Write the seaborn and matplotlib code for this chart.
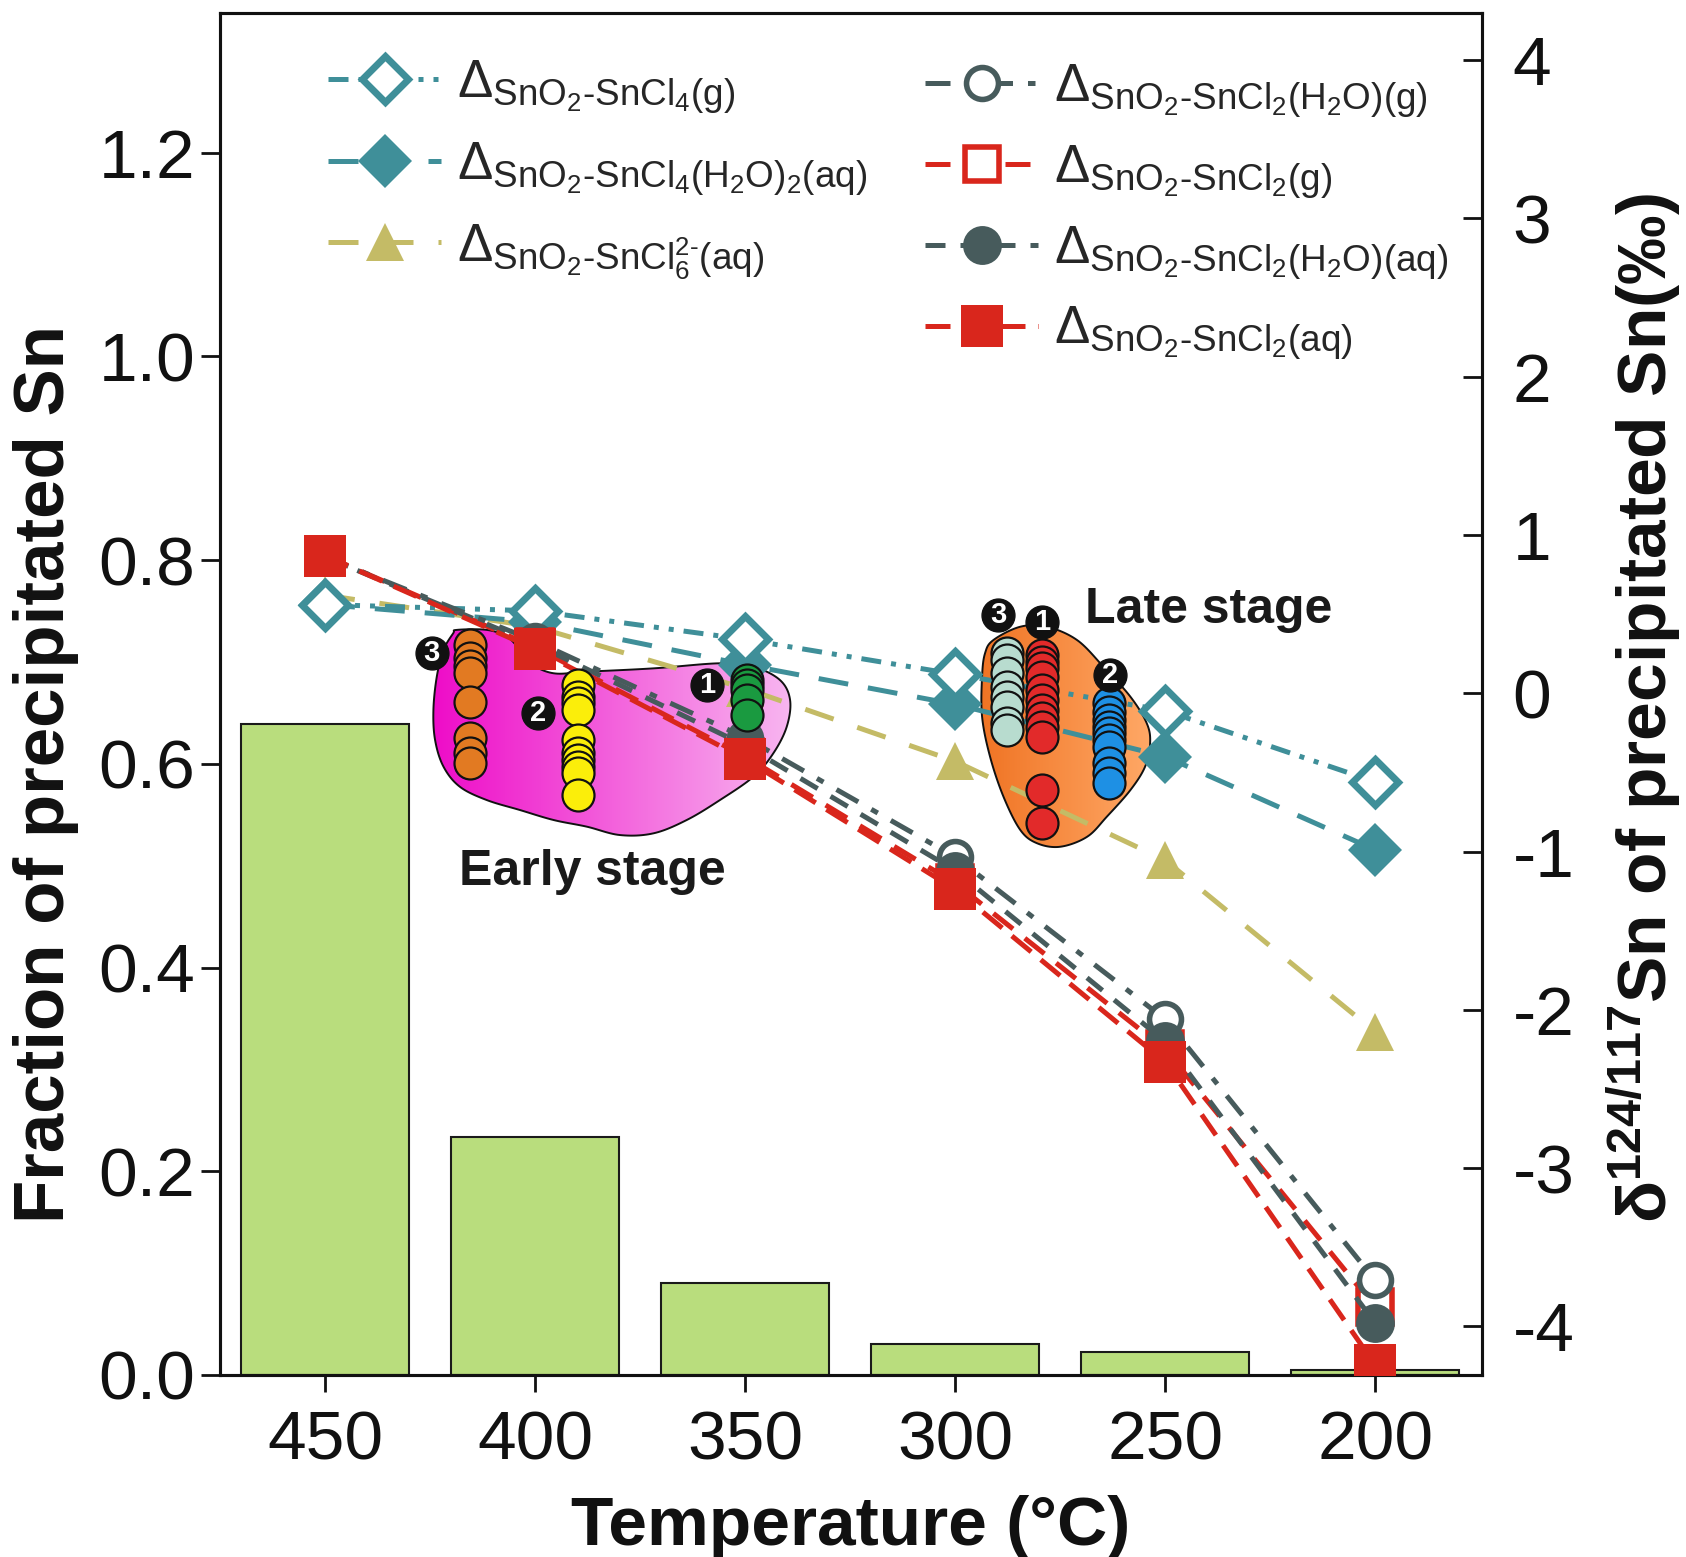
import numpy as np
import pandas as pd
import matplotlib
matplotlib.use("Agg")
import matplotlib.pyplot as plt
import seaborn as sns
from matplotlib.lines import Line2D
from matplotlib.patches import Polygon
from matplotlib.colors import LinearSegmentedColormap

# ---------------- data ----------------
temps = [450, 400, 350, 300, 250, 200]                      # °C
fraction = [0.639, 0.234, 0.090, 0.030, 0.023, 0.005]       # fraction of Sn precipitated per step

# modelled d124/117Sn of precipitated SnO2 for each aqueous / gaseous Sn species
d_sncl4_g = [0.56, 0.52, 0.34, 0.12, -0.11, -0.56]
d_sncl4h2o2_aq = [0.56, 0.45, 0.18, -0.07, -0.40, -0.99]
d_sncl6_aq = [0.62, 0.42, 0.03, -0.43, -1.055, -2.14]
d_sncl2h2o_g = [0.86, 0.33, -0.28, -1.035, -2.06, -3.71]
d_sncl2_g = [0.87, 0.29, -0.40, -1.20, -2.25, -3.88]
d_sncl2h2o_aq = [0.86, 0.31, -0.33, -1.12, -2.20, -3.98]
d_sncl2_aq = [0.868, 0.279, -0.416, -1.239, -2.33, -4.244]

# measured cassiterite d124/117Sn, grouped by stage and generation
early1_T, early1 = 349.6, [0.083, 0.05, 0.02, -0.043, -0.138]
early2_T, early2 = 389.7, [0.052, -0.022, -0.064, -0.106, -0.296, -0.380, -0.422, -0.464, -0.506, -0.643]
early3_T, early3 = 415.5, [0.305, 0.222, 0.172, 0.128, -0.056, -0.283, -0.378, -0.441]
late1_T, late1 = 279.4, [0.241, 0.199, 0.157, 0.104, 0.020, -0.043, -0.106, -0.159, -0.212, -0.275, -0.612, -0.822]
late2_T, late2 = 263.5, [-0.064, -0.117, -0.169, -0.212, -0.254, -0.296, -0.338, -0.443, -0.506, -0.569]
late3_T, late3 = 287.7, [0.252, 0.210, 0.126, 0.041, -0.022, -0.085, -0.190, -0.232]

# generation badges: (label, T, d)
badges = [("3", 424.6, 0.252), ("2", 399.2, -0.127), ("1", 359.1, 0.052),
          ("3", 289.7, 0.494), ("1", 279.4, 0.452), ("2", 263.1, 0.115)]

# outlines of the stage fields (T, d)
early_field = [(418.6, 0.40), (411.5, 0.40), (406.7, 0.357), (403.6, 0.273), (401.2, 0.189),
               (395.6, 0.126), (387.7, 0.136), (371.8, 0.157), (356.0, 0.189), (348.0, 0.167),
               (341.7, 0.083), (339.3, -0.043), (340.1, -0.212), (343.3, -0.380), (348.0, -0.527),
               (356.0, -0.675), (363.9, -0.801), (371.8, -0.885), (379.8, -0.896), (387.7, -0.843),
               (395.6, -0.801), (403.6, -0.738), (411.5, -0.675), (417.9, -0.591), (421.8, -0.464),
               (423.8, -0.296), (424.2, -0.106), (423.4, 0.104), (421.8, 0.273), (419.5, 0.378)]
late_field = [(290.9, 0.336), (284.5, 0.420), (278.2, 0.420), (271.0, 0.336), (264.7, 0.167),
              (258.3, -0.022), (254.4, -0.190), (253.6, -0.316), (254.8, -0.464), (258.3, -0.612),
              (263.9, -0.780), (268.6, -0.907), (275.0, -0.970), (280.5, -0.948), (284.5, -0.864),
              (288.5, -0.654), (291.7, -0.401), (293.6, -0.148), (293.6, 0.104), (292.9, 0.252)]

# ---------------- style ----------------
sns.set_theme(style="ticks")
plt.rcParams["font.family"] = ["Liberation Sans", "DejaVu Sans"]
plt.rcParams["mathtext.fontset"] = "custom"
plt.rcParams["mathtext.rm"] = "Liberation Sans"
plt.rcParams["mathtext.it"] = "Liberation Sans:italic"
plt.rcParams["mathtext.bf"] = "Liberation Sans:bold"

TEAL = "#3f8f99"
OLIVE = "#c4bb66"
SLATE = "#475b5c"
RED = "#d9261c"
BAR = "#b9dd7d"
INK = "#111111"

fig = plt.figure(figsize=(16.86, 15.57), dpi=100)
W, H = 1686, 1557
ax = fig.add_axes([220 / W, 1 - 1375 / H, (1482 - 220) / W, (1375 - 13) / H])

# ---------------- bars: fraction precipitated ----------------
bar_df = pd.DataFrame({"T": temps, "frac": fraction})
sns.barplot(data=bar_df, x="T", y="frac", native_scale=True, width=0.8, color=BAR,
            saturation=1, edgecolor="#1a1a1a", linewidth=1.5, errorbar=None, ax=ax)
ax.set_xlim(475, 174.6)
ax.set_ylim(0, 1.337)
ax.set_xticks(temps)
ax.set_xticklabels([str(t) for t in temps])
ax.set_yticks([0.0, 0.2, 0.4, 0.6, 0.8, 1.0, 1.2])
ax.set_yticklabels(["0.0", "0.2", "0.4", "0.6", "0.8", "1.0", "1.2"])
ax.tick_params(axis="y", direction="out", length=14, width=2, labelsize=50, pad=4,
               left=True, right=False, colors=INK)
ax.tick_params(axis="x", direction="out", length=12, width=2, labelsize=50, pad=13,
               bottom=True, top=False, colors=INK)

# ---------------- isotope axis ----------------
ax2 = ax.twinx()
ax2.set_ylim(-4.307, 4.297)
ax2.set_yticks(range(-4, 5))
ax2.set_yticklabels([str(v) for v in range(-4, 5)])
ax2.tick_params(axis="y", direction="in", length=14, width=2, labelsize=50, pad=22,
                right=True, colors=INK)

for a in (ax, ax2):
    for s in a.spines.values():
        s.set_linewidth(2.2)
        s.set_color(INK)
        s.set_visible(True)


def smooth_closed(pts, n=14):
    p = np.asarray(pts, float)
    m = len(p)
    t = np.linspace(0, 1, n, endpoint=False)[:, None]
    out = []
    for i in range(m):
        p0, p1, p2, p3 = p[i - 1], p[i], p[(i + 1) % m], p[(i + 2) % m]
        out.append(0.5 * (2 * p1 + (-p0 + p2) * t + (2 * p0 - 5 * p1 + 4 * p2 - p3) * t ** 2
                          + (-p0 + 3 * p1 - 3 * p2 + p3) * t ** 3))
    return np.vstack(out)


def gradient_field(outline, c_left, c_right):
    pts = smooth_closed(outline)
    poly = Polygon(pts, closed=True, facecolor="none", edgecolor=INK, lw=1.4,
                   transform=ax2.transData, zorder=2)
    ax2.add_patch(poly)
    cmap = LinearSegmentedColormap.from_list("fld", [c_left, c_right])
    grad = np.linspace(0, 1, 256)[None, :]
    t_hi, t_lo = pts[:, 0].max(), pts[:, 0].min()
    d_lo, d_hi = pts[:, 1].min(), pts[:, 1].max()
    im = ax2.imshow(grad, cmap=cmap, extent=(t_hi, t_lo, d_lo, d_hi), aspect="auto",
                    zorder=1, interpolation="bilinear")
    im.set_clip_path(poly)


gradient_field(early_field, "#ee0cc8", "#f8b6f0")
gradient_field(late_field, "#f07424", "#ffa866")

# ---------------- model curves ----------------
LW = 3.6
styles = {
    "sncl6": dict(color=OLIVE, marker="^", markersize=28, markerfacecolor=OLIVE,
                  markeredgecolor=OLIVE, markeredgewidth=0, linestyle=(0, (6, 5))),
    "sncl4h2o2": dict(color=TEAL, marker="D", markersize=27, markerfacecolor=TEAL,
                      markeredgecolor=TEAL, markeredgewidth=0, linestyle=(0, (6, 4))),
    "sncl4g": dict(color=TEAL, marker="D", markersize=23, markerfacecolor="white",
                   markeredgecolor=TEAL, markeredgewidth=5, linestyle=(0, (4, 2, 1, 2, 1, 2))),
    "sncl2g": dict(color=RED, marker="s", markersize=24, markerfacecolor="white",
                   markeredgecolor=RED, markeredgewidth=4, linestyle=(0, (5, 3))),
    "sncl2h2og": dict(color=SLATE, marker="o", markersize=23, markerfacecolor="white",
                      markeredgecolor=SLATE, markeredgewidth=4, linestyle=(0, (5, 3, 1.5, 3))),
    "sncl2h2oaq": dict(color=SLATE, marker="o", markersize=28, markerfacecolor=SLATE,
                       markeredgecolor=SLATE, markeredgewidth=0, linestyle=(0, (4, 3))),
    "sncl2aq": dict(color=RED, marker="s", markersize=30, markerfacecolor=RED,
                    markeredgecolor=RED, markeredgewidth=0, linestyle=(0, (5, 2.5))),
}
draw_order = [("sncl6", d_sncl6_aq), ("sncl4h2o2", d_sncl4h2o2_aq), ("sncl4g", d_sncl4_g),
              ("sncl2g", d_sncl2_g), ("sncl2h2og", d_sncl2h2o_g),
              ("sncl2h2oaq", d_sncl2h2o_aq), ("sncl2aq", d_sncl2_aq)]
for name, vals in draw_order:
    sns.lineplot(x=temps, y=vals, ax=ax2, sort=False, linewidth=LW, zorder=3, **styles[name])

# ---------------- measured cassiterite ----------------
groups = [
    (early3_T, early3, "#e27a22"), (early2_T, early2, "#fbee0a"), (early1_T, early1, "#1a9a40"),
    (late3_T, late3, "#b8dccf"), (late1_T, late1, "#e22a2a"), (late2_T, late2, "#1e90e4"),
]
for t, vals, col in groups:
    sns.scatterplot(x=[t] * len(vals), y=vals, ax=ax2, s=530, color=col,
                    edgecolor=INK, linewidth=1.6, zorder=4, legend=False)

for lab, t, d in badges:
    ax2.scatter([t], [d], s=560, color=INK, zorder=5)
    ax2.text(t, d, lab, color="white", fontsize=21, fontweight="bold",
             ha="center", va="center", zorder=6)

ax2.text(386.3, -1.13, "Early stage", fontsize=36, fontweight="bold", color="#1a1a1a",
         ha="center", va="center", zorder=6)
ax2.text(239.6, 0.526, "Late stage", fontsize=36, fontweight="bold", color="#1a1a1a",
         ha="center", va="center", zorder=6)

ax2.set_ylim(-4.307, 4.297)
ax.set_xlim(475, 174.6)

# ---------------- legends ----------------
def key(name):
    return Line2D([], [], linewidth=LW, **styles[name])

h1 = [key("sncl4g"), key("sncl4h2o2"), key("sncl6")]
l1 = [r"$\Delta_{\mathrm{SnO_2\text{-}SnCl_4(g)}}$",
      r"$\Delta_{\mathrm{SnO_2\text{-}SnCl_4(H_2O)_2(aq)}}$",
      r"$\Delta_{\mathrm{SnO_2\text{-}SnCl_6^{2\text{-}}(aq)}}$"]
h2 = [key("sncl2h2og"), key("sncl2g"), key("sncl2h2oaq"), key("sncl2aq")]
l2 = [r"$\Delta_{\mathrm{SnO_2\text{-}SnCl_2(H_2O)(g)}}$",
      r"$\Delta_{\mathrm{SnO_2\text{-}SnCl_2(g)}}$",
      r"$\Delta_{\mathrm{SnO_2\text{-}SnCl_2(H_2O)(aq)}}$",
      r"$\Delta_{\mathrm{SnO_2\text{-}SnCl_2(aq)}}$"]

common = dict(loc="upper left", bbox_transform=fig.transFigure, frameon=False, fontsize=38,
              handlelength=2.15, handletextpad=0.3, borderpad=0, borderaxespad=0)
leg1 = ax2.legend(h1, l1, bbox_to_anchor=(328 / W, 1 - 58 / H), labelspacing=0.46, **common)
ax2.add_artist(leg1)
leg2 = ax2.legend(h2, l2, bbox_to_anchor=(925 / W, 1 - 62 / H), labelspacing=0.44, **common)
for lg in (leg1, leg2):
    lg.set_zorder(7)

# ---------------- axis labels ----------------
ax.set_xlabel("Temperature (°C)", fontsize=50, fontweight="bold", color=INK)
ax.xaxis.set_label_coords(0.5, -0.088)
ax.set_ylabel("Fraction of precipitated Sn", fontsize=51, fontweight="bold", color=INK)
ax.yaxis.set_label_coords(-0.112, 0.441)
ax2.set_ylabel(r"$\mathbf{\delta^{124/117}}$Sn of precipitated Sn(‰)", fontsize=50,
               fontweight="bold", color=INK)
ax2.yaxis.set_label_coords(1.097, 0.49)

fig.savefig("out.png", dpi=100)
